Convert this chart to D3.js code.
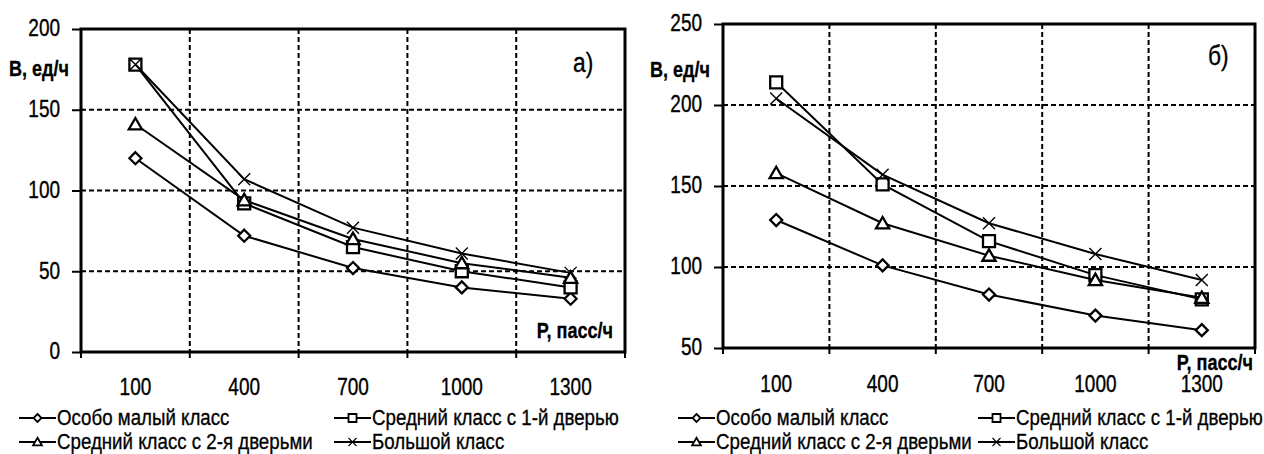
<!DOCTYPE html>
<html>
<head>
<meta charset="utf-8">
<script src="https://cdn.jsdelivr.net/npm/d3@7"></script>
<style>
  html, body { margin: 0; padding: 0; background: #fff; }
  svg { display: block; }
  text { font-family: "Liberation Sans", Arial, sans-serif; fill: #000; stroke: #000; stroke-width: 0.3px; }
</style>
</head>
<body>
<svg id="chart" width="1264" height="454"></svg>
<script>
// ---- data ----
const categories = ["100", "400", "700", "1000", "1300"];
const seriesNames = ["Особо малый класс", "Средний класс с 1-й дверью", "Средний класс с 2-я дверьми", "Большой класс"];
const markerTypes = ["diamond", "square", "triangle", "cross"];

// panel а)
const leftOsoboMalyj = [120, 72, 52, 40, 33];
const leftSrednij1 = [178, 92, 65, 50, 40];
const leftSrednij2 = [141, 94, 70, 55, 46];
const leftBolshoj = [178, 107, 77, 61, 49];
const leftYTicks = [0, 50, 100, 150, 200];

// panel б)
const rightOsoboMalyj = [129, 101, 83, 70, 61];
const rightSrednij1 = [214, 151, 116, 95, 80];
const rightSrednij2 = [158, 127, 107, 92, 81];
const rightBolshoj = [204, 157, 127, 108, 92];
const rightYTicks = [50, 100, 150, 200, 250];

const yLabel = "B, ед/ч";
const xLabel = "P, пасс/ч";

// ---- drawing ----
const svg = d3.select("#chart");
const SX = 0.95, SY = 1.15;

function addText(g, x, y, str, size, opts = {}) {
  return g.append("text")
    .attr("transform", `translate(${x},${y}) scale(${opts.sx || SX},${opts.sy || SY})`)
    .attr("font-size", size)
    .attr("font-weight", opts.bold ? "bold" : "normal")
    .attr("text-anchor", opts.anchor || "start")
    .text(str);
}

function markerPath(type, s) {
  const h = s / 2;
  switch (type) {
    case "diamond": return `M0,${-h}L${h},0L0,${h}L${-h},0Z`;
    case "square": return `M${-h},${-h}H${h}V${h}H${-h}Z`;
    case "triangle": return `M0,${-h * 1.05}L${h * 1.1},${h * 0.85}L${-h * 1.1},${h * 0.85}Z`;
    case "cross": return `M${-h},${-h}L${h},${h}M${-h},${h}L${h},${-h}`;
  }
}

function drawMarker(g, type, x, y, s, sw) {
  g.append("path")
    .attr("d", markerPath(type, s))
    .attr("transform", `translate(${x},${y})`)
    .attr("fill", type === "cross" ? "none" : "#fff")
    .attr("stroke", "#000")
    .attr("stroke-width", type === "cross" ? sw * 0.6 : sw);
}

function drawPanel(cfg) {
  const g = svg.append("g");
  const x = d3.scaleBand().domain(categories).range([cfg.x0, cfg.x1]).padding(0);
  const y = d3.scaleLinear().domain([cfg.yTicks[0], cfg.yTicks[cfg.yTicks.length - 1]]).range([cfg.y1, cfg.y0]);

  // horizontal dashed grid
  g.append("g").selectAll("line")
    .data(cfg.yTicks.slice(1, -1))
    .join("line")
    .attr("x1", cfg.x0).attr("x2", cfg.x1)
    .attr("y1", d => y(d)).attr("y2", d => y(d))
    .attr("stroke", "#000").attr("stroke-width", 2).attr("stroke-dasharray", "5,3");

  // vertical dashed grid at category boundaries
  const bounds = categories.slice(1).map(c => x(c));
  g.append("g").selectAll("line")
    .data(bounds)
    .join("line")
    .attr("x1", d => d).attr("x2", d => d)
    .attr("y1", cfg.y0).attr("y2", cfg.y1)
    .attr("stroke", "#000").attr("stroke-width", 2).attr("stroke-dasharray", "5,3");

  // y axis
  const yAxis = d3.axisLeft(y).tickValues(cfg.yTicks).tickSize(9).tickPadding(12).tickFormat(d3.format("d"));
  const ya = g.append("g").attr("transform", `translate(${cfg.x0},0)`).call(yAxis);
  ya.select(".domain").remove();
  ya.selectAll(".tick line").attr("stroke", "#000").attr("stroke-width", 2);
  ya.selectAll(".tick text")
    .attr("font-size", 20)
    .attr("font-family", "Liberation Sans, Arial, sans-serif")
    .attr("fill", "#000")
    .attr("x", -21 / SX)
    .attr("dy", "0.3em")
    .attr("transform", `scale(${SX},${SY})`);

  // x axis: ticks at boundaries, labels at centers
  const xb = g.append("g");
  xb.selectAll("line")
    .data([cfg.x0].concat(bounds).concat([cfg.x1]))
    .join("line")
    .attr("x1", d => d).attr("x2", d => d)
    .attr("y1", cfg.y1).attr("y2", cfg.y1 + 6)
    .attr("stroke", "#000").attr("stroke-width", 2);
  categories.forEach(c => {
    addText(xb, x(c) + x.bandwidth() / 2, cfg.xLabelY, c, 20, { anchor: "middle" });
  });

  // frame
  g.append("rect")
    .attr("x", cfg.x0).attr("y", cfg.y0)
    .attr("width", cfg.x1 - cfg.x0).attr("height", cfg.y1 - cfg.y0)
    .attr("fill", "none").attr("stroke", "#000").attr("stroke-width", 3);

  // series
  const line = d3.line().x((d, i) => x(categories[i]) + x.bandwidth() / 2).y(d => y(d));
  cfg.series.forEach((vals, si) => {
    g.append("path")
      .datum(vals)
      .attr("d", line)
      .attr("fill", "none")
      .attr("stroke", "#000")
      .attr("stroke-width", 2);
    vals.forEach((v, i) => {
      drawMarker(g, markerTypes[si], x(categories[i]) + x.bandwidth() / 2, y(v), 12, 2.3);
    });
  });

  // labels
  addText(g, cfg.yLabelX, cfg.yLabelY, yLabel, 19, { bold: true });
  addText(g, cfg.xLabelX, cfg.xLabelBaseY, xLabel, 19, { bold: true, anchor: "end" });
  addText(g, cfg.tagX, cfg.tagY, cfg.tag, 24);

  // legend
  const lg = g.append("g");
  const items = [
    { i: 0, x: cfg.legCol1, y: 418 },
    { i: 1, x: cfg.legCol2, y: 418 },
    { i: 2, x: cfg.legCol1, y: 442 },
    { i: 3, x: cfg.legCol2, y: 442 }
  ];
  items.forEach(it => {
    lg.append("line").attr("x1", it.x).attr("x2", it.x + 37)
      .attr("y1", it.y).attr("y2", it.y)
      .attr("stroke", "#000").attr("stroke-width", 2);
    drawMarker(lg, markerTypes[it.i], it.x + 18.5, it.y, 8, 1.8);
    addText(lg, it.x + 38, it.y + 7, seriesNames[it.i], 20, { sx: 0.935, sy: 1.12 });
  });
}

drawPanel({
  x0: 81, x1: 625, y0: 29, y1: 352, yTicks: leftYTicks,
  series: [leftOsoboMalyj, leftSrednij1, leftSrednij2, leftBolshoj],
  xLabelY: 395, yLabelX: 9, yLabelY: 76, xLabelX: 613, xLabelBaseY: 338,
  tag: "а)", tagX: 573, tagY: 72, legCol1: 19, legCol2: 334
});

drawPanel({
  x0: 723, x1: 1255, y0: 24, y1: 348, yTicks: rightYTicks,
  series: [rightOsoboMalyj, rightSrednij1, rightSrednij2, rightBolshoj],
  xLabelY: 392, yLabelX: 650, yLabelY: 77, xLabelX: 1253, xLabelBaseY: 370,
  tag: "б)", tagX: 1208, tagY: 65, legCol1: 678, legCol2: 978
});
</script>
</body>
</html>
